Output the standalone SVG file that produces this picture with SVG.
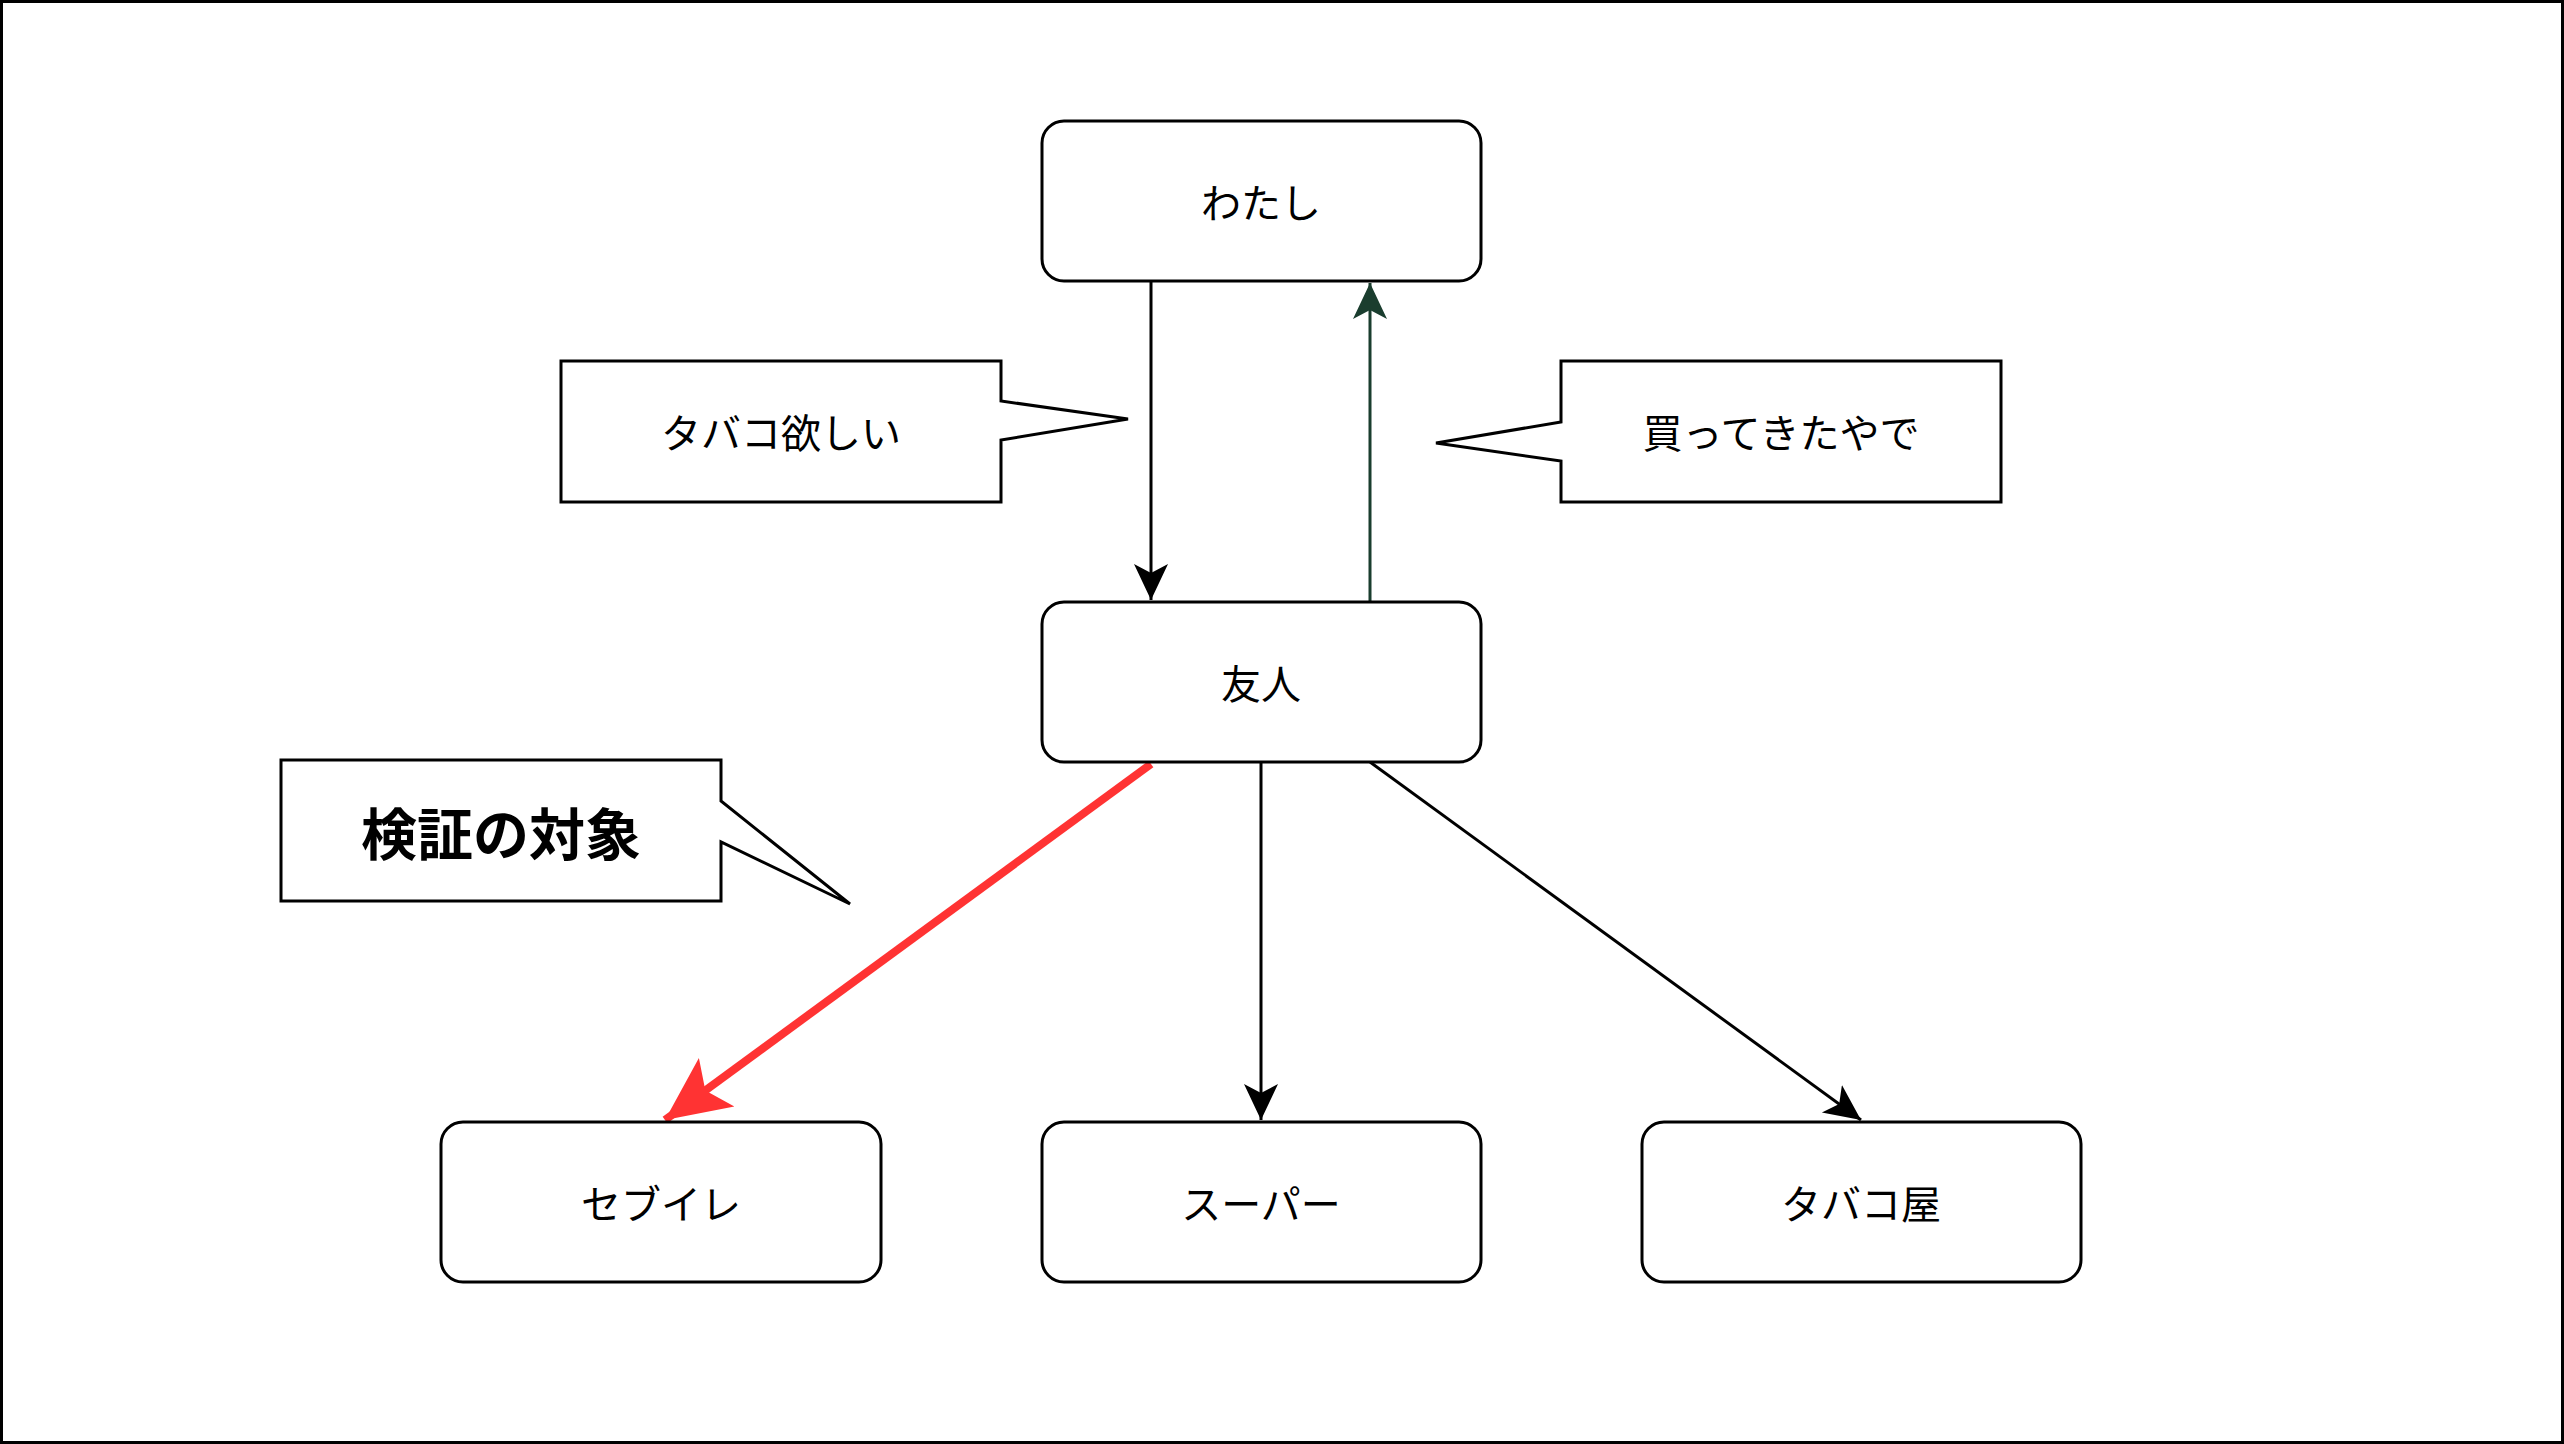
<svg xmlns="http://www.w3.org/2000/svg" width="2564" height="1444" viewBox="0 0 2564 1444">
<style>
.n{fill:#fff;stroke:#000;stroke-width:3}
.t{font-family:"Noto Sans CJK JP",sans-serif;font-size:40px;text-anchor:middle;dominant-baseline:central}
.c{fill:none;stroke-width:3}
</style>
<defs>
<marker id="ab" markerUnits="userSpaceOnUse" markerWidth="40" markerHeight="40" viewBox="0 0 40 40" refX="36" refY="20" orient="auto"><path d="M0,3 L36,20 L0,37 L9,20 z" fill="#000"/></marker>
<marker id="ag" markerUnits="userSpaceOnUse" markerWidth="40" markerHeight="40" viewBox="0 0 40 40" refX="36" refY="20" orient="auto"><path d="M0,3 L36,20 L0,37 L9,20 z" fill="#1a3d2e"/></marker>
<marker id="ar" markerUnits="userSpaceOnUse" markerWidth="70" markerHeight="70" viewBox="0 0 70 70" refX="64" refY="35" orient="auto"><path d="M0,5 L64,35 L0,65 L14,35 z" fill="#ff3333"/></marker>
</defs>
<rect x="1.5" y="1.5" width="2561" height="1441" fill="#fff" stroke="#000" stroke-width="3"/>
<g id="connectors">
<line class="c" x1="1151" y1="281" x2="1151" y2="600" stroke="#000" marker-end="url(#ab)"/>
<line class="c" x1="1370" y1="602" x2="1370" y2="283" stroke="#1a3d2e" marker-end="url(#ag)"/>
<line x1="1151" y1="764" x2="665" y2="1120" stroke="#ff3333" stroke-width="8" marker-end="url(#ar)"/>
<line class="c" x1="1261" y1="762" x2="1261" y2="1120" stroke="#000" marker-end="url(#ab)"/>
<line class="c" x1="1370" y1="762" x2="1861" y2="1120" stroke="#000" marker-end="url(#ab)"/>
</g>
<g id="n1"><rect class="n" x="1042" y="121" width="439" height="160" rx="22"/><text class="t" x="1261" y="201">わたし</text></g>
<g id="n2"><rect class="n" x="1042" y="602" width="439" height="160" rx="22"/><text class="t" x="1261" y="682">友人</text></g>
<g id="n3"><rect class="n" x="441" y="1122" width="440" height="160" rx="22"/><text class="t" x="661" y="1202">セブイレ</text></g>
<g id="n4"><rect class="n" x="1042" y="1122" width="439" height="160" rx="22"/><text class="t" x="1261" y="1202">スーパー</text></g>
<g id="n5"><rect class="n" x="1642" y="1122" width="439" height="160" rx="22"/><text class="t" x="1861" y="1202">タバコ屋</text></g>
<g id="callout1"><path class="n" d="M561,361 H1001 V401 L1128,419 L1001,440 V502 H561 Z"/><text class="t" x="781" y="431">タバコ欲しい</text></g>
<g id="callout2"><path class="n" d="M1561,361 H2001 V502 H1561 V461 L1436,443 L1561,422 Z"/><text class="t" x="1781" y="431">買ってきたやで</text></g>
<g id="callout3"><path class="n" d="M281,760 H721 V801 L850,904 L721,842 V901 H281 Z"/><text class="t" x="501" y="830" style="font-size:56px;font-weight:bold">検証の対象</text></g>
</svg>
